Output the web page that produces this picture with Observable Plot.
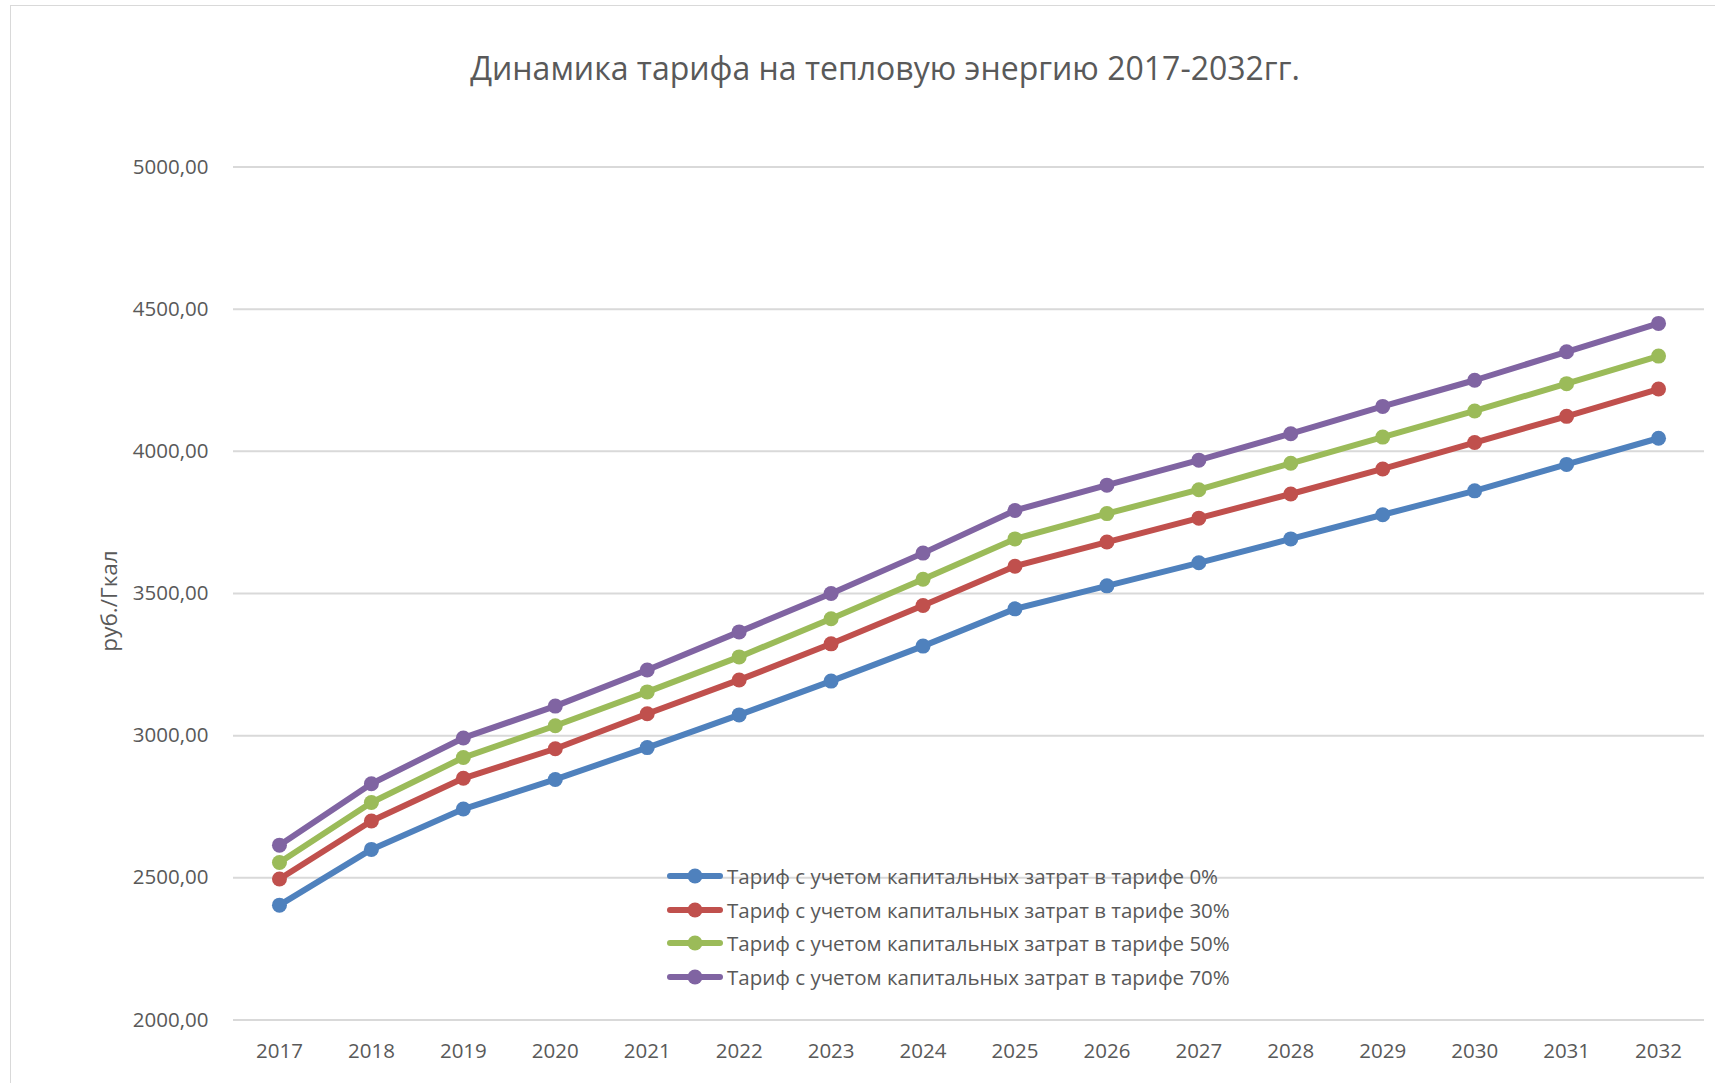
<!DOCTYPE html>
<html>
<head>
<meta charset="utf-8">
<script src="https://cdn.jsdelivr.net/npm/d3@7"></script>
<script src="https://cdn.jsdelivr.net/npm/@observablehq/plot@0.6"></script>
<style>
  html, body { margin: 0; padding: 0; background: #fff; }
  body { width: 1715px; height: 1083px; overflow: hidden; position: relative; font-family: "Open Sans", sans-serif; color: #595959; }
  #frame { position: absolute; left: 10px; top: 5px; width: 1720px; height: 1100px; border: 1.5px solid #d9d9d9; box-sizing: border-box; }
  #title { position: absolute; left: 885px; top: 67px; transform: translate(-50%, -50%); font-size: 32px; white-space: nowrap; color: #595959; }
  #chart { position: absolute; left: 0; top: 0; }
  #legend { position: absolute; left: 667px; top: 859px; }
  .row { display: flex; align-items: center; height: 33.7px; font-size: 20.5px; color: #595959; white-space: nowrap; }
  .row svg { margin-right: 4px; }
</style>
</head>
<body>
<div id="frame"></div>
<div id="chart"></div>
<div id="title"></div>
<div id="legend"></div>
<script>
const titleText = "Динамика тарифа на тепловую энергию 2017-2032гг.";
const yLabel = "руб./Гкал";
const years = ["2017","2018","2019","2020","2021","2022","2023","2024","2025","2026","2027","2028","2029","2030","2031","2032"];
const seriesNames = [
  "Тариф с учетом капитальных затрат в тарифе 0%",
  "Тариф с учетом капитальных затрат в тарифе 30%",
  "Тариф с учетом капитальных затрат в тарифе 50%",
  "Тариф с учетом капитальных затрат в тарифе 70%"
];
const tariff0  = [2404, 2600, 2742, 2846, 2958, 3073, 3192, 3315, 3446, 3527, 3608, 3692, 3777, 3861, 3954, 4046];
const tariff30 = [2496, 2700, 2850, 2954, 3077, 3196, 3323, 3458, 3596, 3681, 3765, 3850, 3938, 4031, 4123, 4219];
const tariff50 = [2554, 2765, 2923, 3035, 3154, 3277, 3411, 3550, 3692, 3781, 3865, 3958, 4050, 4142, 4238, 4335];
const tariff70 = [2615, 2831, 2992, 3104, 3231, 3365, 3500, 3642, 3792, 3881, 3969, 4062, 4158, 4250, 4350, 4450];
const yTicks = [2000, 2500, 3000, 3500, 4000, 4500, 5000];
const seriesColors = ["#4F81BD", "#C0504D", "#9BBB59", "#8064A2"];

const allSeries = [tariff0, tariff30, tariff50, tariff70];
const data = allSeries.flatMap((vals, i) => vals.map((v, j) => ({year: years[j], value: v, series: seriesNames[i]})));
const fmt = d => d.toFixed(2).replace(".", ",");

const chart = Plot.plot({
  width: 1715,
  height: 1083,
  marginLeft: 233,
  marginRight: 11,
  marginTop: 166.5,
  marginBottom: 63.5,
  style: { fontFamily: "Open Sans, sans-serif", fontSize: "20.5px", color: "#595959", background: "transparent" },
  x: { type: "point", domain: years, padding: 0.5, round: false, label: null },
  y: { domain: [2000, 5000], ticks: yTicks, label: null },
  color: { domain: seriesNames, range: seriesColors },
  marks: [
    Plot.gridY(yTicks, { stroke: "#d9d9d9", strokeOpacity: 1, strokeWidth: 2 }),
    Plot.axisY(yTicks, { tickSize: 0, tickPadding: 25, tickFormat: fmt, label: null, fill: "#595959" }),
    Plot.axisX({ tickSize: 0, tickPadding: 23, label: null, fill: "#595959" }),
    Plot.line(data, { x: "year", y: "value", stroke: "series", strokeWidth: 6, strokeLinejoin: "round", strokeLinecap: "round" }),
    Plot.dot(data, { x: "year", y: "value", fill: "series", r: 7.5 })
  ]
});
document.getElementById("chart").appendChild(chart);

// y axis title
const svgNS = "http://www.w3.org/2000/svg";
const yl = document.createElementNS(svgNS, "text");
yl.setAttribute("transform", "translate(111,601) rotate(-90)");
yl.setAttribute("text-anchor", "middle");
yl.setAttribute("dominant-baseline", "middle");
yl.setAttribute("fill", "#595959");
yl.setAttribute("font-size", "22.5px");
yl.textContent = yLabel;
chart.appendChild(yl);

document.getElementById("title").textContent = titleText;

const legend = document.getElementById("legend");
seriesNames.forEach((name, i) => {
  const row = document.createElement("div");
  row.className = "row";
  row.innerHTML = `<svg width="56" height="18"><line x1="3" y1="9" x2="53" y2="9" stroke="${seriesColors[i]}" stroke-width="6" stroke-linecap="round"/><circle cx="28" cy="9" r="7.5" fill="${seriesColors[i]}"/></svg><span></span>`;
  row.querySelector("span").textContent = name;
  legend.appendChild(row);
});
</script>
</body>
</html>
